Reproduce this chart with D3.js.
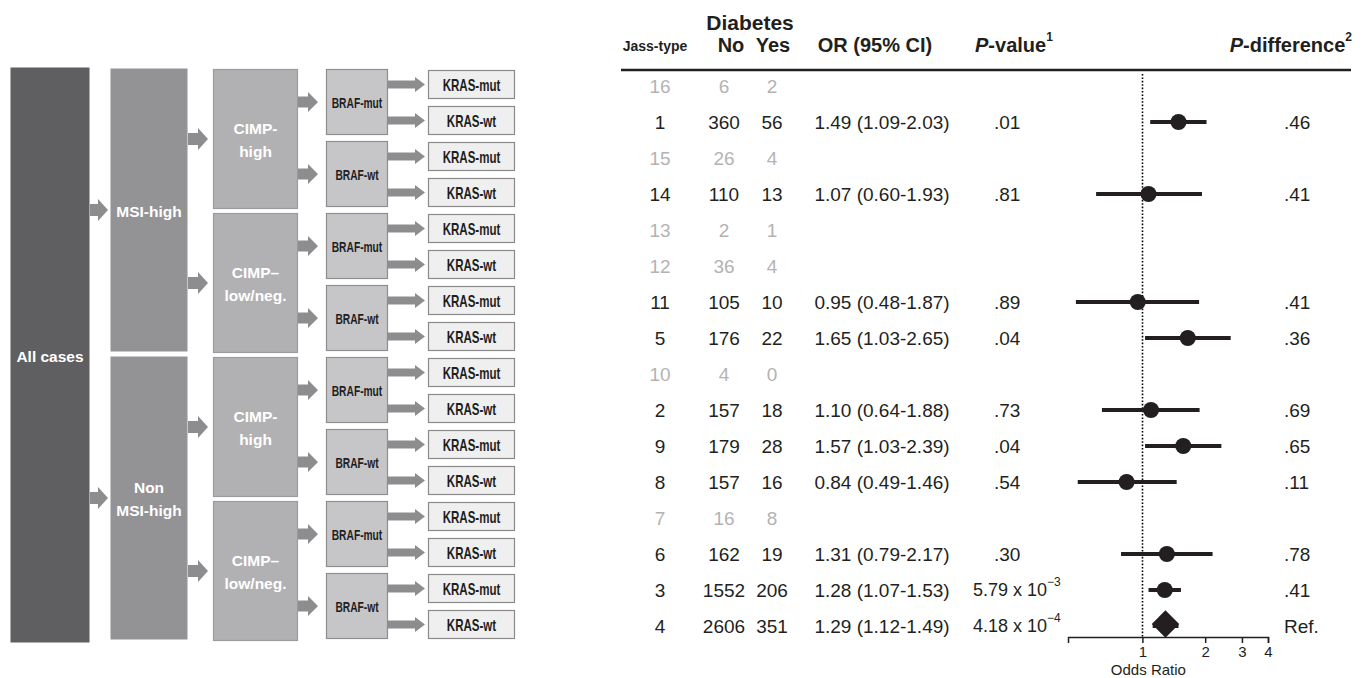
<!DOCTYPE html>
<html>
<head>
<meta charset="utf-8">
<script src="https://cdn.jsdelivr.net/npm/d3@7"></script>
<style>
  body { margin: 0; background: #fff; }
  text { font-family: "Liberation Sans", Arial, Helvetica, sans-serif; }
</style>
</head>
<body>
<svg id="chart"></svg>
<script>
// tree labels, one list per level (repeat down the rows)
const level0 = ['All cases'];
const level1 = ['MSI-high', 'Non\nMSI-high'];
const level2 = ['CIMP-\nhigh', 'CIMP\u2013\nlow/neg.'];
const level3 = ['BRAF-mut', 'BRAF-wt'];
const level4 = ['KRAS-mut', 'KRAS-wt'];

// table rows, top to bottom
const jassType = [16, 1, 15, 14, 13, 12, 11, 5, 10, 2, 9, 8, 7, 6, 3, 4];
const noCount = [6, 360, 26, 110, 2, 36, 105, 176, 4, 157, 179, 157, 16, 162, 1552, 2606];
const yesCount = [2, 56, 4, 13, 1, 4, 10, 22, 0, 18, 28, 16, 8, 19, 206, 351];
const oddsRatio = [null, 1.49, null, 1.07, null, null, 0.95, 1.65, null, 1.10, 1.57, 0.84, null, 1.31, 1.28, 1.29];
const ciLow = [null, 1.09, null, 0.60, null, null, 0.48, 1.03, null, 0.64, 1.03, 0.49, null, 0.79, 1.07, 1.12];
const ciHigh = [null, 2.03, null, 1.93, null, null, 1.87, 2.65, null, 1.88, 2.39, 1.46, null, 2.17, 1.53, 1.49];
const pValue = ['', '.01', '', '.81', '', '', '.89', '.04', '', '.73', '.04', '.54', '', '.30', '5.79 x 10^\u22123', '4.18 x 10^\u22124'];
const pDiff = ['', '.46', '', '.41', '', '', '.41', '.36', '', '.69', '.65', '.11', '', '.78', '.41', 'Ref.'];
const axisTicks = [1, 2, 3, 4];

const width = 1367, height = 678;
const svg = d3.select('#chart').attr('width', width).attr('height', height);

const nRows = jassType.length;
const yBand = d3.scaleBand().domain(d3.range(nRows)).range([67, 643]);
const rowY = i => yBand(i) + yBand.bandwidth() / 2 + 1;

// ---- tree on the left ----
const levels = [
  { labels: level0, x0: 10, x1: 90, padT: 0, padB: 0, fill: '#5f5f61', stroke: 'none', color: '#fff', size: 15.5, sx: 1 },
  { labels: level1, x0: 110, x1: 188, padT: 1, padB: 3, fill: '#939395', stroke: 'none', color: '#fff', size: 15.5, sx: 1 },
  { labels: level2, x0: 213, x1: 298, padT: 2, padB: 2, fill: '#b1b1b3', stroke: '#9c9c9e', color: '#fff', size: 15.5, sx: 1 },
  { labels: level3, x0: 326, x1: 388, padT: 2, padB: 4, fill: '#c6c6c8', stroke: '#8e8e90', color: '#1e1e1e', size: 15.5, sx: 0.66 },
  { labels: level4, x0: 428, x1: 515, padT: 3, padB: 4, fill: '#efefef', stroke: '#8a8a8a', color: '#1e1e1e', size: 16.5, sx: 0.7 }
];
const arrowSpec = [null,
  { gap: 2, shaft: 12, head: 22, len: 10 },
  { gap: 5, shaft: 12, head: 22, len: 10 },
  { gap: 8, shaft: 11, head: 20, len: 10 },
  { gap: 3, shaft: 8, head: 15, len: 10 }
];

const nodes = [];
levels.forEach((lv, L) => {
  const count = Math.pow(2, L);
  const span = nRows / count;
  for (let i = 0; i < count; i++) {
    const r0 = i * span, r1 = r0 + span - 1;
    nodes.push({
      L, lv,
      label: lv.labels[i % lv.labels.length],
      y0: yBand(r0) + lv.padT,
      y1: yBand(r1) + yBand.bandwidth() - lv.padB
    });
  }
});

const tree = svg.append('g').attr('class', 'tree');

// arrows
const arrowColor = '#8d8d8f';
nodes.filter(d => d.L > 0).forEach(d => {
  const a = arrowSpec[d.L];
  const xs = levels[d.L - 1].x1;
  const xe = d.lv.x0 - a.gap;
  const xh = xe - a.len;
  const cy = (d.y0 + d.y1) / 2;
  const pts = [
    [xs, cy - a.shaft / 2], [xh, cy - a.shaft / 2], [xh, cy - a.head / 2],
    [xe, cy], [xh, cy + a.head / 2], [xh, cy + a.shaft / 2], [xs, cy + a.shaft / 2]
  ];
  tree.append('path')
    .attr('d', d3.line()(pts) + 'Z')
    .attr('fill', arrowColor);
});

// boxes
tree.selectAll('rect.node')
  .data(nodes)
  .join('rect')
  .attr('class', 'node')
  .attr('x', d => d.lv.x0 + 0.5)
  .attr('y', d => d.y0 + 0.5)
  .attr('width', d => d.lv.x1 - d.lv.x0 - 1)
  .attr('height', d => d.y1 - d.y0 - 1)
  .attr('fill', d => d.lv.fill)
  .attr('stroke', d => d.lv.stroke)
  .attr('stroke-width', 1.2);

nodes.forEach(d => {
  const lines = d.label.split('\n');
  const cx = (d.lv.x0 + d.lv.x1) / 2;
  const cy = (d.y0 + d.y1) / 2;
  const lh = 23;
  lines.forEach((t, k) => {
    const ty = cy + (k - (lines.length - 1) / 2) * lh + 1;
    tree.append('text')
      .attr('transform', `translate(${cx},${ty}) scale(${d.lv.sx},1)`)
      .attr('text-anchor', 'middle')
      .attr('dominant-baseline', 'central')
      .attr('font-weight', 'bold')
      .attr('font-size', d.lv.size)
      .attr('fill', d.lv.color)
      .text(t);
  });
});

// ---- table ----
const ink = '#231f20';
const grey = '#b3b3b3';
const col = { jass: 660, no: 724, yes: 772, or: 882, p: 994, pLong: 973, pd: 1284 };

const head = svg.append('g').attr('class', 'header').attr('font-weight', 'bold').attr('fill', ink);
head.append('text').attr('x', 750).attr('y', 22).attr('text-anchor', 'middle')
  .attr('dominant-baseline', 'central').attr('font-size', 21).text('Diabetes');
head.append('text').attr('x', 655).attr('y', 46).attr('text-anchor', 'middle')
  .attr('dominant-baseline', 'central').attr('font-size', 14).text('Jass-type');
[['No', 731], ['Yes', 773], ['OR (95% CI)', 875]].forEach(([t, x]) => {
  head.append('text').attr('x', x).attr('y', 45).attr('text-anchor', 'middle')
    .attr('dominant-baseline', 'central').attr('font-size', 20).text(t);
});
const pv = head.append('text').attr('x', 975).attr('y', 45)
  .attr('dominant-baseline', 'central').attr('font-size', 20);
pv.append('tspan').attr('font-style', 'italic').text('P');
pv.append('tspan').text('-value');
pv.append('tspan').attr('font-size', 12).attr('dy', -8).text('1');
const pdh = head.append('text').attr('x', 1352).attr('y', 45).attr('text-anchor', 'end')
  .attr('dominant-baseline', 'central').attr('font-size', 20);
pdh.append('tspan').attr('font-style', 'italic').text('P');
pdh.append('tspan').text('-difference');
pdh.append('tspan').attr('font-size', 12).attr('dy', -8).text('2');

svg.append('line').attr('x1', 621).attr('x2', 1351).attr('y1', 70).attr('y2', 70)
  .attr('stroke', ink).attr('stroke-width', 2.5);

const body = svg.append('g').attr('class', 'rows').attr('font-size', 19);
const rows = d3.range(nRows).map(i => ({
  i, jass: jassType[i], no: noCount[i], yes: yesCount[i],
  or: oddsRatio[i], lo: ciLow[i], hi: ciHigh[i], p: pValue[i], pd: pDiff[i]
}));

rows.forEach(r => {
  const y = rowY(r.i);
  const c = r.or == null ? grey : ink;
  const put = (x, t, anchor) => body.append('text')
    .attr('x', x).attr('y', y).attr('text-anchor', anchor || 'middle')
    .attr('dominant-baseline', 'central').attr('fill', c).text(t);
  put(col.jass, r.jass);
  put(col.no, r.no);
  put(col.yes, r.yes);
  if (r.or != null) {
    const f = d3.format('.2f');
    put(col.or, `${f(r.or)} (${f(r.lo)}-${f(r.hi)})`);
  }
  if (r.p) {
    if (r.p.includes('^')) {
      const [base, exp] = r.p.split('^');
      const t = put(col.pLong, '', 'start').attr('font-size', 18);
      t.append('tspan').text(base);
      t.append('tspan').attr('font-size', 12).attr('dy', -8).text(exp);
    } else {
      put(col.p, r.p, 'start');
    }
  }
  if (r.pd) put(col.pd, r.pd, 'start');
});

// ---- forest plot ----
const x = d3.scaleLog().domain([0.44, 4]).range([1068, 1268]);
const axisY = 637;
const plot = svg.append('g').attr('class', 'forest');

const refX = Math.round(x(1)) + 0.5;
plot.append('line')
  .attr('x1', refX).attr('x2', refX).attr('y1', 74).attr('y2', axisY)
  .attr('stroke', '#000').attr('stroke-width', 1.6).attr('stroke-dasharray', '1.6,1.8');

const est = rows.filter(r => r.or != null);
plot.selectAll('line.ci')
  .data(est)
  .join('line')
  .attr('class', 'ci')
  .attr('x1', d => x(d.lo)).attr('x2', d => x(d.hi))
  .attr('y1', d => rowY(d.i)).attr('y2', d => rowY(d.i))
  .attr('stroke', ink).attr('stroke-width', 4);

const refRow = est[est.length - 1];
plot.selectAll('circle.pt')
  .data(est.filter(d => d !== refRow))
  .join('circle')
  .attr('class', 'pt')
  .attr('cx', d => x(d.or)).attr('cy', d => rowY(d.i)).attr('r', 8)
  .attr('fill', ink);
plot.append('path')
  .attr('d', d3.symbol(d3.symbolDiamond2, 480)())
  .attr('transform', `translate(${x(refRow.or)},${rowY(refRow.i) - 2})`)
  .attr('fill', ink);

const axis = d3.axisBottom(x).tickValues(axisTicks).tickFormat(d3.format('d')).tickSize(6).tickSizeOuter(6);
const ax = plot.append('g')
  .attr('transform', `translate(0,${axisY})`)
  .call(axis);
ax.select('.domain').attr('stroke', ink).attr('stroke-width', 1.5);
ax.selectAll('.tick line').attr('stroke', ink).attr('stroke-width', 1.5);
ax.selectAll('.tick text').attr('font-size', 15).attr('fill', ink)
  .attr('font-family', '"Liberation Sans", Arial, sans-serif');
plot.append('text').attr('x', x(1) + 6).attr('y', 669).attr('text-anchor', 'middle')
  .attr('dominant-baseline', 'central').attr('font-size', 15).attr('fill', ink).text('Odds Ratio');
</script>
</body>
</html>
